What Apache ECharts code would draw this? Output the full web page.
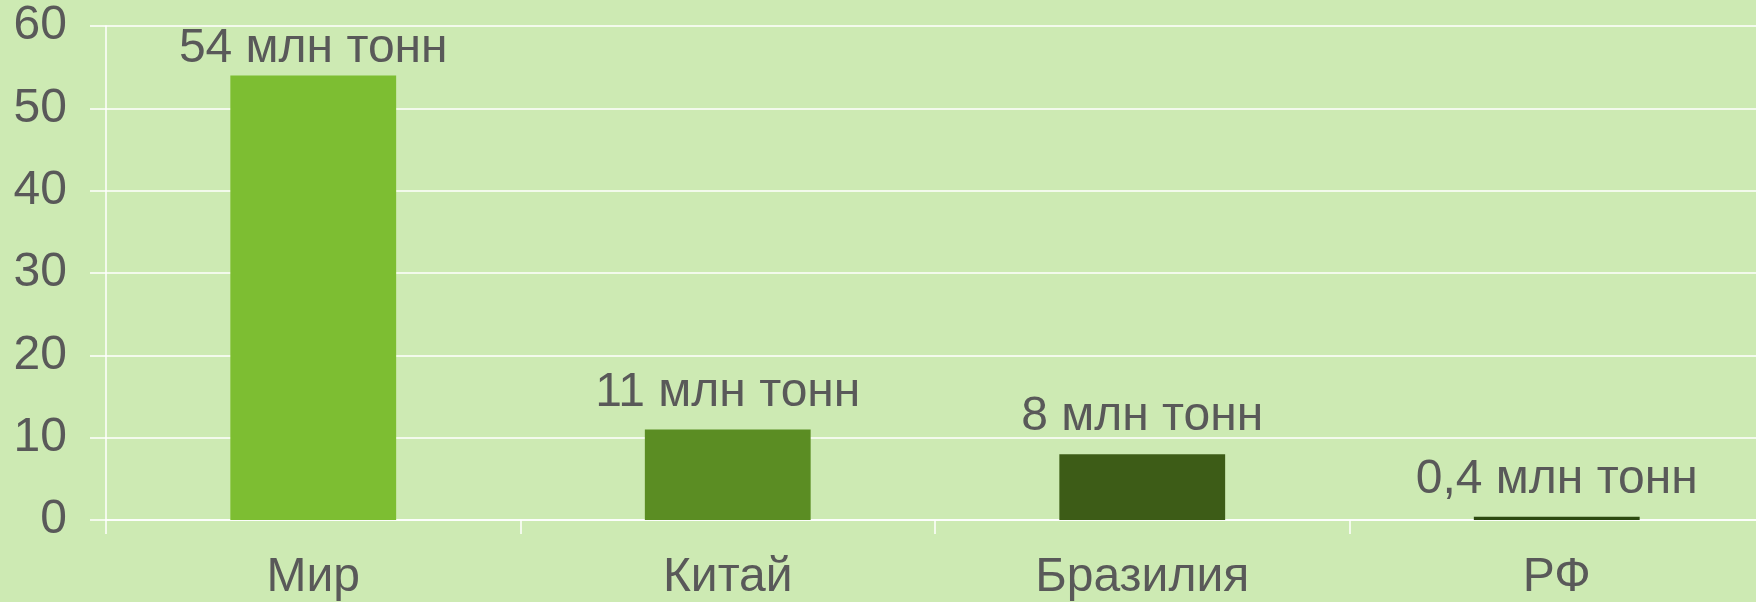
<!DOCTYPE html>
<html>
<head>
<meta charset="utf-8">
<script src="https://cdn.jsdelivr.net/npm/echarts@6/dist/echarts.min.js"></script>
<style>
    html, body { margin: 0; padding: 0; background: #cdeab3; }
    #bars { width: 1756px; height: 602px; }
</style>
</head>
<body>
<div id="bars"></div>
<script>
const countries = ['Мир', 'Китай', 'Бразилия', 'РФ'];
const volumes = [54, 11, 8, 0.4];
const volumeLabels = ['54 млн тонн', '11 млн тонн', '8 млн тонн', '0,4 млн тонн'];
const barColors = ['#7dbe32', '#5b8d23', '#3d5c17', '#2d4a10'];
const yTicks = [0, 10, 20, 30, 40, 50, 60];

let bars = echarts.init(document.getElementById('bars'));

const textColor = '#595959';
const font = 'Liberation Sans, Arial, sans-serif';

let option = {
    backgroundColor: '#cdeab3',
    animation: false,
    grid: {
        left: 106,
        top: 26,
        width: 1658,
        height: 494,
        outerBoundsMode: 'none'
    },
    xAxis: {
        type: 'category',
        data: countries,
        axisLine: { lineStyle: { color: '#ffffff', width: 1.5 } },
        axisTick: { show: true, length: 14, lineStyle: { color: '#ffffff', width: 1.5 } },
        axisLabel: {
            color: textColor,
            fontSize: 48,
            fontFamily: font,
            margin: 34
        }
    },
    yAxis: {
        type: 'value',
        min: yTicks[0],
        max: yTicks[yTicks.length - 1],
        interval: 10,
        axisLine: { show: true, lineStyle: { color: '#ffffff', width: 1.5 } },
        axisTick: { show: true, length: 16, lineStyle: { color: '#ffffff', width: 1.5 } },
        splitLine: { lineStyle: { color: '#ffffff', width: 1.5 } },
        axisLabel: {
            color: textColor,
            fontSize: 48,
            fontFamily: font,
            margin: 39
        }
    },
    series: [
        {
            type: 'bar',
            barWidth: '40%',
            data: volumes.map(function (v, i) {
                return {
                    value: v,
                    itemStyle: { color: barColors[i] },
                    label: { distance: i === 0 ? 3 : 13 }
                };
            }),
            label: {
                show: true,
                position: 'top',
                color: textColor,
                fontSize: 48,
                fontFamily: font,
                formatter: function (p) {
                    return volumeLabels[p.dataIndex];
                }
            }
        }
    ]
};

bars.setOption(option);
</script>
</body>
</html>
